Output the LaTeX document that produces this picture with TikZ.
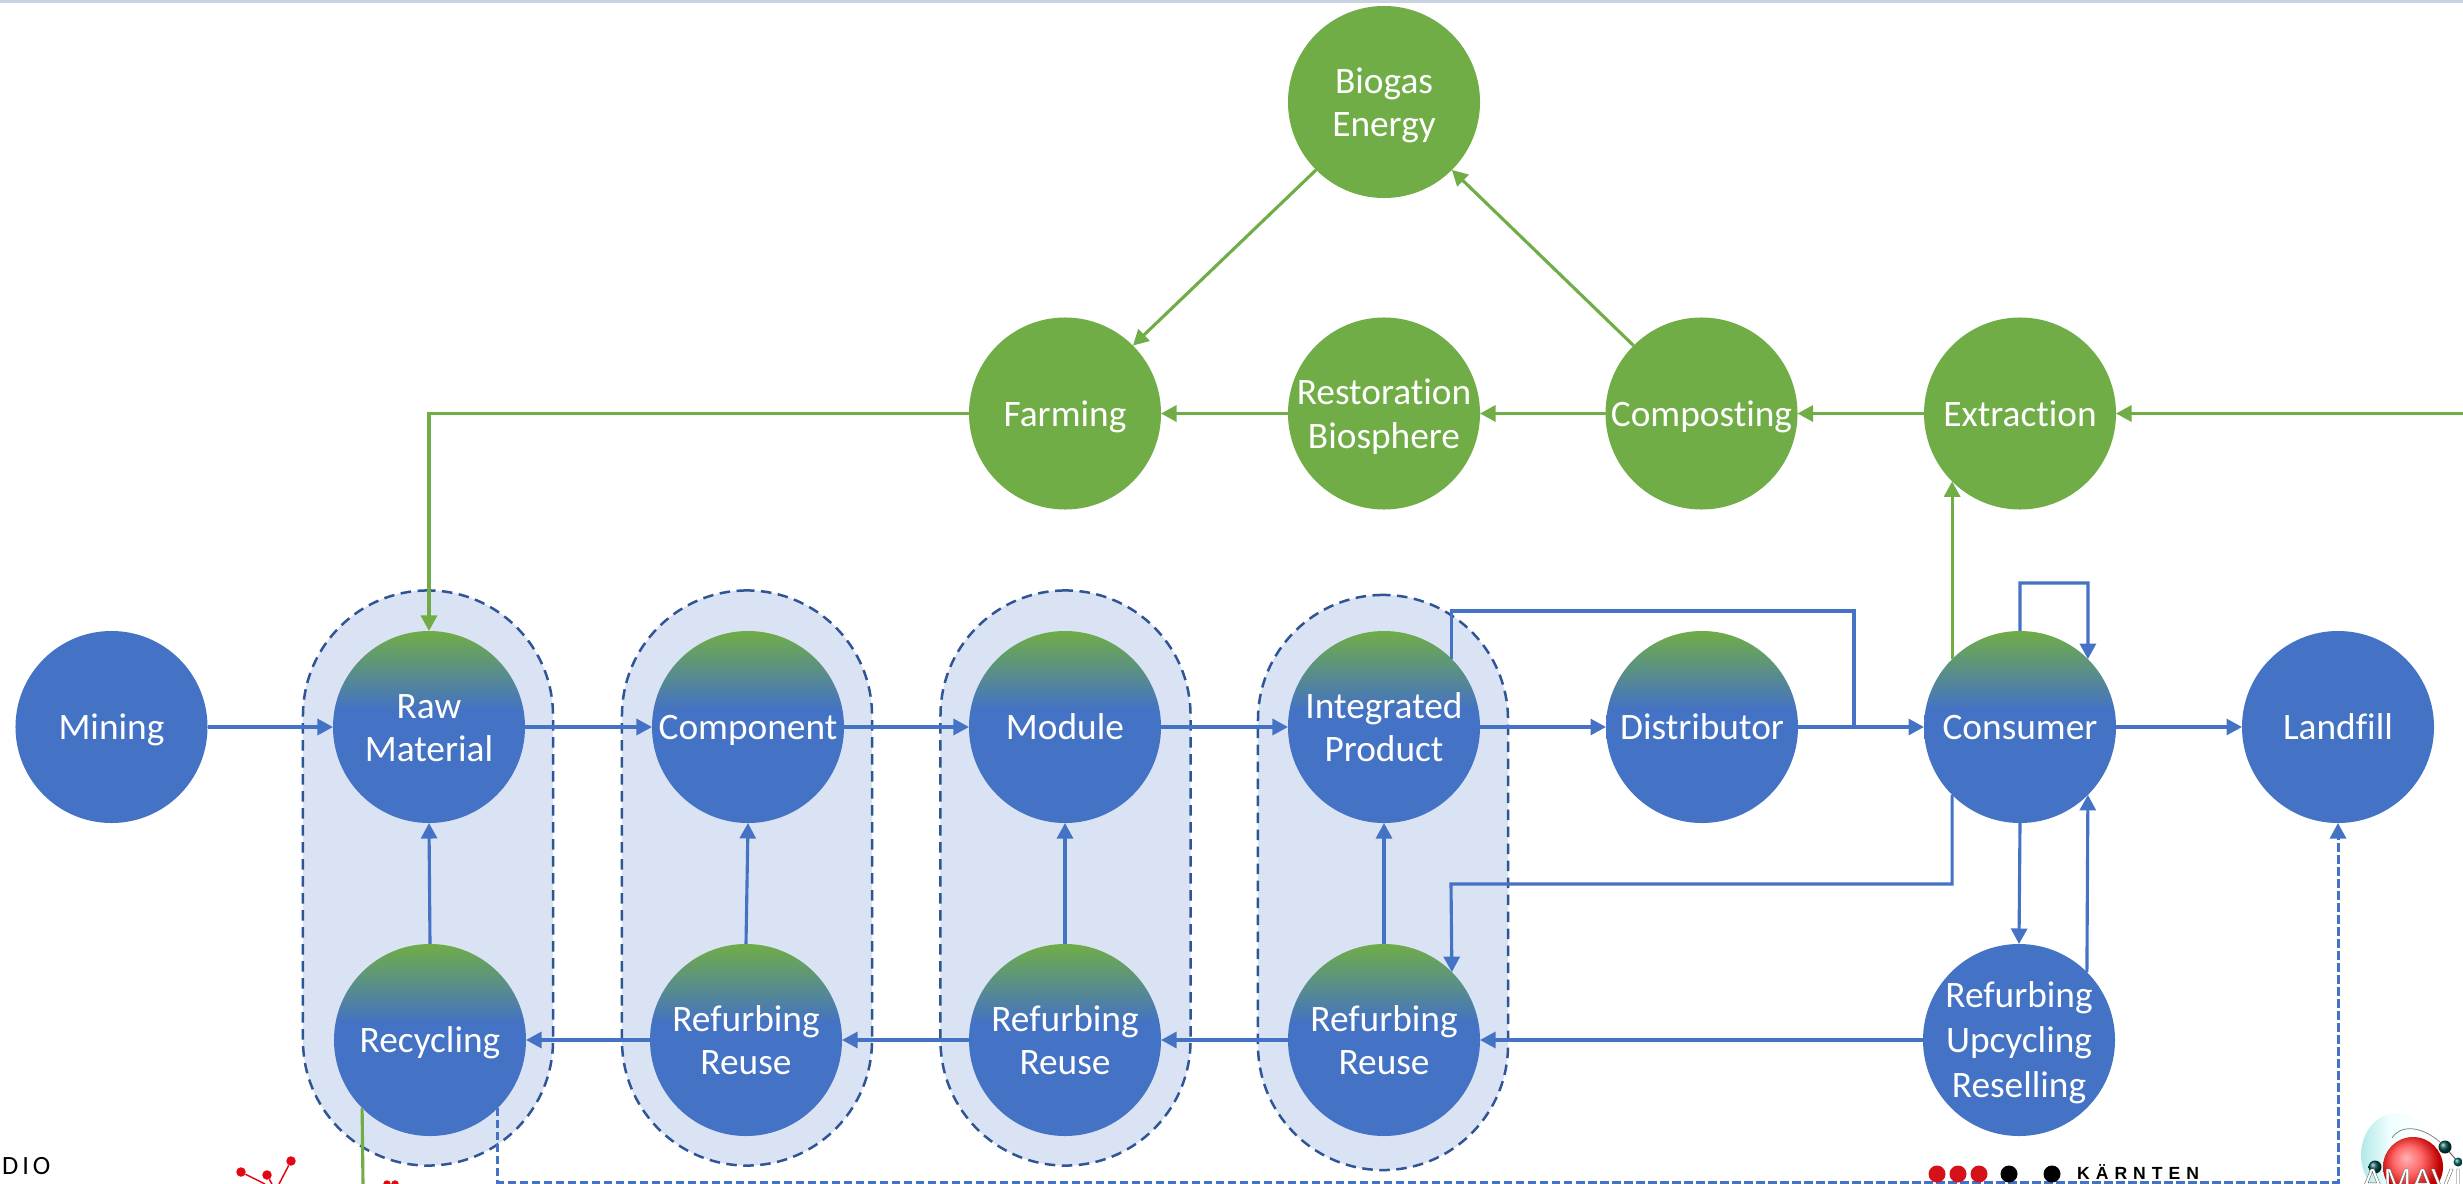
\documentclass[tikz,border=0pt]{standalone}
\usepackage{fontspec}
\setmainfont[Ligatures={NoCommon}]{Carlito}
\newfontfamily\dioFont[LetterSpace=15]{Carlito}
\newfontfamily\karFont[LetterSpace=34]{Liberation Sans}
\newfontfamily\amaFont{Liberation Sans}
\usetikzlibrary{arrows.meta}
\definecolor{cblue}{HTML}{4472C4}
\definecolor{cgreen}{HTML}{70AD47}
\definecolor{capfill}{HTML}{DAE3F3}
\definecolor{capline}{HTML}{2F5597}
\definecolor{topband}{HTML}{CBD2E1}
\definecolor{logored}{HTML}{E30613}
\definecolor{karred}{HTML}{D5121A}
\newcommand{\st}{\rule{0pt}{.952em}}
\newcommand{\sd}{\rule[-.269em]{0pt}{.269em}}
\pgfdeclareverticalshading{gb}{100bp}{color(0bp)=(cblue); color(54.5bp)=(cblue); color(75bp)=(cgreen); color(100bp)=(cgreen)}
\pgfdeclareradialshading{redball}{\pgfpoint{-6bp}{8bp}}{color(0bp)=(white!70!red); color(12bp)=(red!60!white); color(25bp)=(red!75!black); color(50bp)=(black!55!red)}
\pgfdeclarehorizontalshading{shellshade}{100bp}{color(0bp)=(black!30!cyan!30!white); color(25bp)=(black!30!cyan!30!white); color(45bp)=(cyan!6!white); color(75bp)=(white); color(100bp)=(white)}
\tikzset{
  base/.style={circle,minimum size=7.68cm,inner sep=-0.5cm,outer sep=0pt,text=white,align=center,
    font=\fontsize{42.5}{49.5}\selectfont},
  bluec/.style={base,fill=cblue},
  greenc/.style={base,fill=cgreen},
  gradc/.style={base,shading=gb},
  capsule/.style={rectangle,minimum width=10cm,minimum height=23cm,rounded corners=5cm,inner sep=0pt,
    fill=capfill,draw=capline,line width=0.1cm,dash pattern=on 0.42cm off 0.26cm},
  bl/.style={draw=cblue,line width=0.125cm,-{Triangle[length=0.62cm,width=0.64cm]}},
  blplain/.style={draw=cblue,line width=0.125cm},
  gr/.style={draw=cgreen,line width=0.125cm,-{Triangle[length=0.62cm,width=0.64cm]}},
  grplain/.style={draw=cgreen,line width=0.125cm},
  dsh/.style={draw=cblue,line width=0.12cm,dash pattern=on 0.34cm off 0.14cm,-{Triangle[length=0.62cm,width=0.64cm,fill=cblue]}},
  logoLine/.style={draw=logored,line width=0.06cm},
  logoDot/.style={circle,fill=logored,inner sep=0pt},
  karDot/.style={circle,inner sep=0pt,minimum size=0.68cm},
}
\begin{document}
\begin{tikzpicture}[x=0.04cm,y=-0.04cm]
\useasboundingbox (0,0) rectangle (2463,1184);
\clip (0,0) rectangle (2463,1184);
\fill[white] (0,0) rectangle (2463,1184);
\fill[topband] (0,0) rectangle (2463,3);

% capsules
\node[capsule] (cap1) at (428,878) {};
\node[capsule] (cap2) at (747,878) {};
\node[capsule] (cap3) at (1065.5,878) {};
\node[capsule] (cap4) at (1383,882.5) {};

% nodes
\node[bluec] (mining) at (111.5,727) {\st Mining\sd};
\node[gradc] (raw) at (429,727) {\st Raw\\Material\sd};
\node[gradc] (comp) at (748,727) {\st Component\sd};
\node[gradc] (mod) at (1065,727) {\st Module\sd};
\node[gradc] (int) at (1384,727) {\st Integrated\\Product\sd};
\node[gradc] (dist) at (1702,727) {\st Distributor\sd};
\node[gradc] (cons) at (2020,727) {\st Consumer\sd};
\node[bluec] (land) at (2338,727) {\st Landfill\sd};
\node[gradc] (rec) at (430,1040) {\st Recycling\sd};
\node[gradc] (ref1) at (746,1040) {\st Refurbing\\Reuse\sd};
\node[gradc] (ref2) at (1065,1040) {\st Refurbing\\Reuse\sd};
\node[gradc] (ref3) at (1384,1040) {\st Refurbing\\Reuse\sd};
\node[bluec,font=\fontsize{42.5}{51}\selectfont] (up) at (2019,1040) {\st Refurbing\\Upcycling\\Reselling\sd};
\node[greenc] (farm) at (1065,413.5) {\st Farming\sd};
\node[greenc] (rest) at (1384,413.5) {\st Restoration\\Biosphere\sd};
\node[greenc] (compo) at (1701.5,413.5) {\st Composting\sd};
\node[greenc] (ext) at (2020,413.5) {\st Extraction\sd};
\node[greenc] (bio) at (1384,102) {\st Biogas\\Energy\sd};

% free coordinates
\coordinate (rightEdge) at (2463,413.5);
\coordinate (intHigh) at (1854,611);
\coordinate (distJoin) at (1854,727);
\coordinate (loopCorner) at (2088,583);
\coordinate (consLow) at (1451,884);
\coordinate (dashCorner) at (2338,1182);
\coordinate (recDown) at (363,1184);

% blue flow
\draw[bl] (mining) -- (raw);
\draw[bl] (raw) -- (comp);
\draw[bl] (comp) -- (mod);
\draw[bl] (mod) -- (int);
\draw[bl] (int) -- (dist);
\draw[bl] (dist) -- (cons);
\draw[bl] (cons) -- (land);
\draw[bl] (rec.north) -- (raw.south);
\draw[bl] (ref1.north) -- (comp.south);
\draw[bl] (ref2.north) -- (mod.south);
\draw[bl] (ref3.north) -- (int.south);
\draw[bl] (ref1.west) -- (rec.east);
\draw[bl] (ref2.west) -- (ref1.east);
\draw[bl] (ref3.west) -- (ref2.east);
\draw[bl] (up.west) -- (ref3.east);
\draw[bl] (cons.south) -- (up.north);
\draw[bl] (up.45) -- (cons.315);
\draw[bl] (cons.north) |- (loopCorner) -- (cons.45);
\draw[blplain] (int.45) |- (intHigh) -- (distJoin);
\draw[bl] (cons.225) |- (consLow) -- (ref3.45);

% green flow
\draw[gr] (rightEdge) -- (ext);
\draw[gr] (ext) -- (compo);
\draw[gr] (compo) -- (rest);
\draw[gr] (rest) -- (farm);
\draw[gr] (compo.135) -- (bio.315);
\draw[gr] (bio.225) -- (farm.45);
\draw[gr] (farm.west) -| (raw.north);
\draw[gr] (cons.135) -- (ext.225);
\draw[grplain] (rec.225) -- (recDown);

% dashed
\draw[dsh] (rec.315) |- (dashCorner) -- (land.south);

% DIO
\node[anchor=base west,inner sep=0pt,text=black,font=\dioFont\fontsize{30}{34}\selectfont] (dio) at (2,1174) {DIO};

% red molecule logo
\node[logoDot,minimum size=0.38cm] (d1) at (241,1172) {};
\node[logoDot,minimum size=0.38cm] (d2) at (267,1175) {};
\node[logoDot,minimum size=0.38cm] (d3) at (291,1161) {};
\coordinate (j1) at (265,1184);
\coordinate (j2) at (272,1184);
\coordinate (j3) at (279,1184);
\draw[logoLine] (d1) -- (j1);
\draw[logoLine] (d2) -- (j2);
\draw[logoLine] (d3) -- (j3);
\node[logoDot,minimum size=0.3cm] (d4) at (387,1184) {};
\node[logoDot,minimum size=0.3cm] (d5) at (395,1184) {};

% Kaernten logo
\node[karDot,fill=karred] (k1) at (1937,1174) {};
\node[karDot,fill=karred] (k2) at (1958,1174) {};
\node[karDot,fill=karred] (k3) at (1979,1174) {};
\node[karDot,fill=black] (k4) at (2009,1174) {};
\node[karDot,fill=black] (k5) at (2052,1174) {};
\node[anchor=base west,inner sep=0pt,text=black,font=\karFont\bfseries\fontsize{20}{22}\selectfont] (kar) at (2077,1179.5) {KÄRNTEN};

% AMAVI globe
\shade[shading=shellshade] (2397,1155) ellipse (36 and 42);
\draw[black!50,line width=0.03cm] (2392,1138) .. controls (2400,1125) and (2420,1125) .. (2440,1142);
\shade[shading=redball] (2413,1167) circle (30);
\draw[black!60,line width=0.04cm] (2445,1147) -- (2458,1162);
\shade[ball color=black!70!cyan] (2445,1147) circle (6.5);
\shade[ball color=black!70!cyan] (2375,1167) circle (6.5);
\shade[ball color=black!60!cyan] (2458,1162) circle (4.5);
\node[anchor=base west,inner sep=0pt,text=white,font=\amaFont\fontsize{38}{40}\selectfont] (ama) at (2361,1192) {\special{pdf:code 2 Tr 0.4 w 0.35 G}AMAVI\special{pdf:code 0 Tr}};
\end{tikzpicture}
\end{document}
